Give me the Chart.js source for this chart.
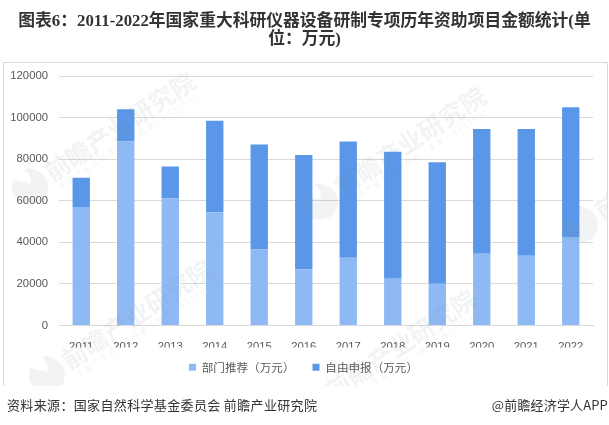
<!DOCTYPE html>
<html><head><meta charset="utf-8">
<script src="https://cdn.jsdelivr.net/npm/chart.js@4"></script>
<style>
html,body{margin:0;padding:0;background:#fff;width:609px;height:425px;overflow:hidden}
#wrap{position:relative;width:609px;height:425px}
canvas{position:absolute;left:0;top:0}
.t{position:absolute;white-space:nowrap}
#title{left:0;width:609px;top:12px;text-align:center;font:bold 16.8px/18px "Liberation Serif","Noto Sans CJK SC";color:#333;white-space:normal}
#title span{display:block}
#src{left:7px;top:396px;font:13px/18px "Noto Sans CJK SC";color:#333;letter-spacing:.35px}
#brand{right:1px;top:396px;font:13px/18px "Noto Sans CJK SC";color:#333;letter-spacing:.15px}
</style></head><body>
<div id="wrap">
<canvas id="c" width="609" height="425"></canvas>
<div class="t" id="title"><span>图表6：2011-2022年国家重大科研仪器设备研制专项历年资助项目金额统计(单</span><span>位：万元)</span></div>
<div class="t" id="src">资料来源：国家自然科学基金委员会 前瞻产业研究院</div>
<div class="t" id="brand">@前瞻经济学人APP</div>
</div>
<script>
const years=["2011","2012","2013","2014","2015","2016","2017","2018","2019","2020","2021","2022"];
const deptName="部门推荐（万元）";
const selfName="自由申报（万元）";
const deptValues=[57000,88500,61000,54500,36500,27000,32500,22500,20000,34500,33500,42500];
const selfValues=[14000,15500,15500,44000,50500,55000,56000,61000,58500,60000,61000,62500];
const watermarkMain="前瞻产业研究院";
const watermarkSub="中国产业咨询领导者（股票：833599）";
const watermarks=[[30,187],[320,202],[580,225],[47,375],[311,405]];
const font='"Noto Sans CJK SC"';

const decor={
 id:'decor',
 afterLayout(ch){
  const l=ch.legend;
  l.left+=5;l.right+=5;l.top-=4;l.bottom-=4;
 },
 beforeDraw(ch){
  const g=ch.ctx;g.save();
  g.strokeStyle='#d9d9d9';g.lineWidth=1;
  g.beginPath();g.moveTo(3.5,386);g.lineTo(3.5,62.5);g.lineTo(607.5,62.5);g.lineTo(607.5,386);g.stroke();
  g.restore();
 },
 afterDatasetsDraw(ch){
  const g=ch.ctx;
  g.save();
  g.beginPath();g.rect(4,63,603,323);g.clip();
  watermarks.forEach(([x,y])=>{
   g.save();g.translate(x,y);g.rotate(-33.5*Math.PI/180);
   g.textBaseline='middle';g.textAlign='left';
   g.fillStyle='rgba(130,142,165,.11)';
   g.font='bold 25px '+font;g.fillText(watermarkMain,21,-1);
   g.font='7.5px '+font;g.letterSpacing='2px';g.fillText(watermarkSub,25,16);g.letterSpacing='0px';
   g.beginPath();g.moveTo(2,-2);g.arc(0,0,18,-0.95,-2.15,false);g.closePath();g.fill();
   g.beginPath();g.moveTo(6,-8);g.arc(2,-2,16,-1.35,-0.95);g.closePath();g.fill();
   g.restore();
  });
  g.restore();
 }
};
new Chart(document.getElementById('c'),{
 type:'bar',
 data:{labels:years,datasets:[
  {label:deptName,data:deptValues,backgroundColor:'#8fb9f4',stack:'a'},
  {label:selfName,data:selfValues,backgroundColor:'#5a97e8',stack:'a'}
 ]},
 plugins:[decor],
 options:{
  responsive:false,animation:false,devicePixelRatio:1,
  layout:{padding:{left:4,right:16,top:76,bottom:38}},
  datasets:{bar:{categoryPercentage:1,barPercentage:.39}},
  plugins:{
   title:{display:false},tooltip:{enabled:false},
   legend:{position:'bottom',labels:{boxWidth:7,boxHeight:7,padding:18,color:'#595959',font:{family:font,size:11.6}}}
  },
  scales:{
   x:{stacked:true,grid:{display:false},border:{color:'#d9d9d9'},afterFit(s){s.height=22},
      ticks:{color:'#595959',padding:7,maxRotation:0,font:{family:'"Liberation Sans"',size:11.3}}},
   y:{stacked:true,min:0,max:120000,afterFit(s){s.width=55},
      grid:{color:'#d9d9d9',drawTicks:false},border:{display:false},
      ticks:{stepSize:20000,color:'#595959',padding:11,font:{family:'"Liberation Sans"',size:11.3},callback:v=>String(v)}}
  }
 }
});
</script></body></html>
